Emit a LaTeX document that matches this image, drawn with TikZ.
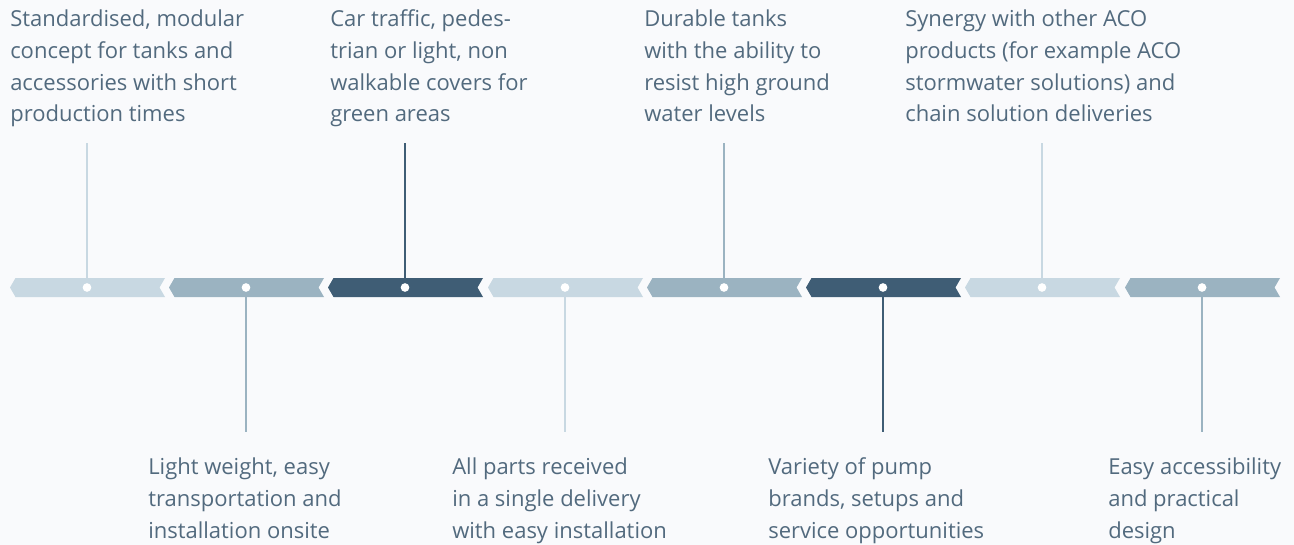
\documentclass[tikz,border=0pt]{standalone}
\usepackage{fontspec}
\setmainfont{Open Sans}
\usepackage{xcolor}
\definecolor{segLight}{RGB}{200,216,226}
\definecolor{segMid}{RGB}{155,179,193}
\definecolor{segDark}{RGB}{63,93,117}
\definecolor{txtBlue}{RGB}{82,106,126}
\definecolor{bgPale}{RGB}{249,250,252}

\tikzset{
  feature/.style={anchor=base west, inner sep=0pt, align=left, text=txtBlue,
    font=\fontsize{16.5}{23.75}\selectfont},
  stem/.style={line width=1.9pt},
  hub/.style={circle, fill=white, inner sep=0pt, minimum size=6.5pt},
}

\begin{document}
\begin{tikzpicture}[x=0.75pt,y=0.75pt,yscale=-1,xscale=1]
\fill[bgPale] (0,0) rectangle (1294,545);
\useasboundingbox (0,0) rectangle (1294,545);

% Arrow band with stems and hubs
\foreach \cx/\col/\ey [count=\i] in {87/segLight/143, 246/segMid/432,
    405/segDark/143, 565/segLight/432, 724/segMid/143, 883/segDark/432,
    1042/segLight/143, 1202/segMid/432}{
  \fill[\col] (\cx-77,287.5) -- (\cx-71.5,278) -- (\cx+78,278) -- (\cx+72.5,287.5)
    -- (\cx+78,297) -- (\cx-71.5,297) -- cycle;
  \coordinate (d\i) at (\cx,287.5);
  \coordinate (e\i) at (\cx,\ey);
  \draw[stem,\col] (d\i) -- (e\i);
  \node[hub] (h\i) at (d\i) {};
}

% Text Node (top row, placed at the last baseline)
\node[feature] (t1) at (10,122) {Standardised, modular\\concept for tanks and\\accessories with short\\production times};
\node[feature] (t3) at (330,122) {Car traffic, pedes-\\trian or light, non\\walkable covers for\\green areas};
\node[feature] (t5) at (644,122) {Durable tanks\\with the ability to\\resist high ground\\water levels};
\node[feature] (t7) at (905,122) {Synergy with other ACO\\products (for example ACO\\stormwater solutions) and\\chain solution deliveries};

% Text Node (bottom row)
\node[feature] (t2) at (148,538) {Light weight, easy\\transportation and\\installation onsite};
\node[feature] (t4) at (452,538) {All parts received\\in a single delivery\\with easy installation};
\node[feature] (t6) at (768,538) {Variety of pump\\brands, setups and\\service opportunities};
\node[feature] (t8) at (1108,538) {Easy accessibility\\and practical\\design};

\end{tikzpicture}
\end{document}
